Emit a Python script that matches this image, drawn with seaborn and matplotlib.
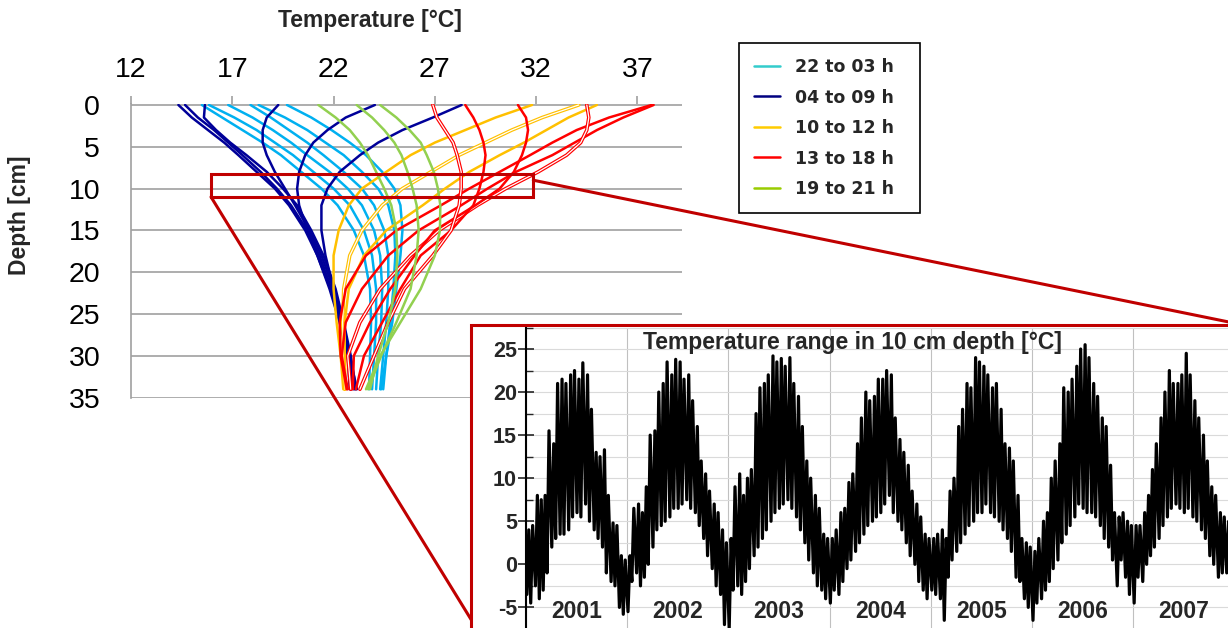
import numpy as np
import pandas as pd
import matplotlib
matplotlib.use("Agg")
import matplotlib.pyplot as plt
import matplotlib.patheffects as pe
import matplotlib.dates as mdates
from matplotlib.lines import Line2D
from matplotlib.patches import Rectangle, ConnectionPatch
from matplotlib.ticker import MultipleLocator
import seaborn as sns

# --- data -------------------------------------------------------------
# depth levels of the hourly profiles [cm]
depths = [0, 1.5, 3, 4.5, 6, 8, 10, 12, 15, 18, 22, 26, 30, 34]

# hourly soil temperature profiles [°C]
night = {  # 22 to 03 h
    22: [19.7, 20.9, 21.9, 22.8, 23.6, 24.4, 25.0, 25.3, 25.4, 25.3, 25.1, 24.9, 24.6, 24.35],
    23: [18.3, 19.6, 20.7, 21.6, 22.5, 23.4, 24.2, 24.7, 25.0, 25.05, 24.95, 24.8, 24.6, 24.45],
    0: [17.9, 18.9, 19.8, 20.7, 21.5, 22.5, 23.4, 24.0, 24.5, 24.7, 24.7, 24.6, 24.45, 24.3],
    1: [16.8, 18.0, 19.0, 19.9, 20.7, 21.8, 22.7, 23.4, 24.0, 24.3, 24.4, 24.35, 24.2, 24.1],
    2: [15.85, 17.1, 18.2, 19.1, 20.0, 21.0, 22.0, 22.8, 23.5, 23.9, 24.1, 24.1, 24.0, 23.9],
    3: [15.5, 16.5, 17.5, 18.5, 19.4, 20.4, 21.4, 22.2, 23.0, 23.5, 23.8, 23.85, 23.8, 23.75],
}
morning = {  # 04 to 09 h
    4: [14.67, 15.3, 16.1, 16.8, 17.5, 18.4, 19.2, 19.9, 20.7, 21.3, 21.9, 22.4, 22.8, 23.15],
    5: [14.34, 15.0, 15.8, 16.6, 17.3, 18.2, 19.1, 19.8, 20.6, 21.2, 21.85, 22.35, 22.75, 23.0],
    6: [15.65, 15.6, 16.2, 16.9, 17.7, 18.7, 19.5, 20.2, 20.9, 21.5, 22.1, 22.5, 22.85, 23.1],
    7: [19.27, 18.7, 18.5, 18.5, 18.7, 19.1, 19.6, 20.1, 20.8, 21.4, 22.0, 22.45, 22.8, 23.05],
    8: [24.04, 22.6, 21.7, 21.0, 20.6, 20.3, 20.2, 20.3, 20.7, 21.2, 21.8, 22.3, 22.7, 22.9],
    9: [28.32, 26.9, 25.4, 24.2, 23.3, 22.3, 21.7, 21.4, 21.4, 21.6, 22.0, 22.4, 22.7, 22.8],
}
noon = {  # 10 to 12 h
    10: [31.8, 30.0, 28.5, 27.0, 25.8, 24.6, 23.4, 22.75, 22.25, 22.0, 22.0, 22.15, 22.35, 22.48],
    11: [34.1, 32.3, 30.8, 29.5, 28.2, 26.8, 25.4, 24.4, 23.4, 22.8, 22.5, 22.45, 22.5, 22.55],
    12: [35.0, 33.6, 32.5, 31.4, 30.2, 28.7, 27.5, 26.4, 24.6, 23.5, 22.75, 22.55, 22.55, 22.6],
}
afternoon = {  # 13 to 18 h
    13: [37.7, 35.6, 34.0, 32.8, 31.7, 30.2, 28.7, 27.3, 25.1, 23.6, 22.6, 22.3, 22.35, 22.65],
    14: [37.8, 36.3, 35.0, 33.9, 32.8, 31.0, 29.6, 28.3, 26.2, 24.7, 23.4, 22.6, 22.4, 22.7],
    15: [34.5, 34.6, 34.5, 34.2, 33.5, 32.1, 30.5, 29.1, 27.2, 25.8, 24.3, 23.3, 22.7, 22.85],
    16: [31.1, 31.5, 31.6, 31.5, 31.3, 30.9, 30.2, 29.0, 27.0, 26.0, 24.8, 23.8, 23.0, 22.95],
    17: [28.5, 28.9, 29.2, 29.4, 29.5, 29.4, 29.2, 28.9, 27.8, 26.3, 25.3, 24.4, 23.5, 23.1],
    18: [26.9, 27.1, 27.5, 27.9, 28.1, 28.3, 28.3, 28.2, 27.8, 26.9, 25.5, 24.7, 24.0, 23.3],
}
evening = {  # 19 to 21 h
    19: [24.3, 25.1, 25.75, 26.3, 26.6, 26.95, 27.15, 27.27, 27.25, 27.0, 26.3, 25.3, 24.3, 23.6],
    20: [23.14, 23.9, 24.5, 25.0, 25.35, 25.65, 25.9, 26.1, 26.2, 26.1, 25.8, 25.1, 24.35, 23.7],
    21: [21.25, 22.1, 22.8, 23.3, 23.7, 24.1, 24.5, 24.85, 25.1, 25.15, 25.05, 24.7, 24.2, 23.8],
}
hollow_hours = [11, 15, 18]

group_labels = ["22 to 03 h", "04 to 09 h", "10 to 12 h", "13 to 18 h", "19 to 21 h"]
group_profiles = [night, morning, noon, afternoon, evening]
line_colors = ["#00b0f0", "#000099", "#ffc000", "#ff0000", "#92d050"]
legend_colors = ["#33cccc", "#000080", "#ffcc00", "#ff0000", "#99cc00"]

temp_ticks = [12, 17, 22, 27, 32, 37]
depth_ticks = [0, 5, 10, 15, 20, 25, 30, 35]

# 10 cm depth record: half-monthly upper / lower envelope [°C]
years = [2001, 2002, 2003, 2004, 2005, 2006, 2007]
hi_2001 = [4.0, 4.5, 8.0, 7.5, 8.0, 15.5, 14.0, 21.0, 21.5, 21.0, 22.0, 22.5,
           21.5, 23.4, 22.0, 18.0, 13.0, 12.5, 13.3, 8.0, 4.8, 4.5, 1.0, 0.5]
lo_2001 = [-3.5, -4.5, -2.5, -4.0, -3.0, -1.0, 2.0, 3.0, 3.5, 3.5, 4.0, 5.5,
           6.0, 5.5, 7.0, 5.0, 4.0, 3.0, 2.0, -1.0, -2.0, -2.5, -5.0, -5.8]
hi_2002 = [1.0, 6.5, 7.0, 6.0, 9.0, 15.0, 15.5, 20.0, 21.0, 23.5, 22.0, 23.8,
           23.5, 21.5, 22.0, 19.0, 16.0, 12.0, 10.5, 8.5, 7.0, 6.0, 4.0, 2.5]
lo_2002 = [-5.5, -2.0, -1.0, -2.5, -1.5, 0.0, 2.0, 4.0, 4.5, 5.0, 5.5, 6.5,
           6.5, 7.0, 7.5, 6.5, 6.0, 4.5, 3.0, 1.0, -0.5, -2.5, -3.5, -7.0]
hi_2003 = [3.0, 9.0, 10.5, 8.0, 10.0, 11.0, 17.5, 20.5, 21.0, 22.0, 24.2, 23.5,
           23.9, 23.0, 24.0, 21.0, 19.5, 16.0, 12.0, 10.0, 8.0, 6.5, 3.5, 3.0]
lo_2003 = [-7.5, -3.0, -2.5, -3.5, -2.0, -0.5, 1.0, 2.0, 3.0, 4.0, 5.0, 6.0,
           6.5, 7.0, 7.5, 6.5, 5.5, 4.0, 2.5, 0.5, -1.0, -2.5, -3.0, -4.0]
hi_2004 = [3.0, 4.0, 6.0, 6.5, 9.5, 10.5, 14.0, 17.0, 20.0, 19.0, 19.5, 21.5,
           21.5, 22.5, 22.0, 17.0, 14.5, 13.0, 11.5, 8.5, 7.0, 5.5, 3.5, 3.0]
lo_2004 = [-4.5, -3.0, -3.5, -2.0, -0.5, 0.5, 1.5, 2.5, 3.5, 4.5, 5.0, 5.5,
           6.0, 7.0, 8.0, 6.0, 5.0, 4.0, 2.5, 1.0, 0.0, -2.0, -3.0, -4.0]
hi_2005 = [3.0, 3.5, 4.0, 3.0, 8.5, 10.0, 16.0, 18.0, 21.0, 20.5, 24.0, 23.5,
           23.0, 22.0, 20.5, 21.0, 18.0, 14.0, 13.5, 12.0, 8.0, 3.0, 2.5, 2.0]
lo_2005 = [-3.0, -3.5, -4.0, -6.5, -1.5, 0.5, 1.5, 2.5, 3.5, 4.5, 5.0, 6.0,
           6.0, 7.0, 6.0, 5.5, 5.0, 4.0, 3.0, 1.5, -1.5, -2.0, -4.0, -5.0]
hi_2006 = [1.5, 3.0, 5.0, 6.0, 10.0, 12.0, 14.0, 20.5, 20.0, 21.5, 23.0, 25.0,
           25.5, 24.0, 21.0, 19.5, 17.0, 16.0, 11.5, 6.0, 5.5, 6.0, 5.0, 4.5]
lo_2006 = [-6.5, -4.5, -4.0, -3.0, -2.0, -0.5, 0.5, 2.5, 3.5, 4.5, 5.5, 7.0,
           6.5, 6.0, 6.0, 5.5, 4.5, 3.0, 2.0, 0.5, -2.5, 0.5, -1.5, -3.5]
hi_2007 = [4.5, 4.5, 6.0, 8.0, 11.0, 14.0, 17.0, 20.0, 22.5, 21.0, 21.0, 22.0,
           24.5, 22.0, 19.0, 17.0, 15.0, 12.0, 9.0, 8.0, 6.0, 5.5, 5.0, 4.0]
lo_2007 = [-4.5, -1.5, -2.0, 0.0, 1.0, 2.0, 3.0, 4.5, 5.5, 6.5, 7.0, 6.5,
           6.0, 6.5, 5.5, 5.0, 4.0, 3.0, 1.0, 0.0, -1.5, -1.0, -1.0, -1.5]

# --- style ------------------------------------------------------------
sns.set_style("white")
plt.rcParams["font.family"] = ["Liberation Sans", "DejaVu Sans"]
plt.rcParams["axes.unicode_minus"] = False

fig = plt.figure(figsize=(12.28, 6.28), dpi=100)
W, H = 1228, 628

# main axes: hourly profiles
ax = fig.add_axes([131 / W, (H - 398.3) / H, 551 / W, 294 / H])

rows = []
for prof in group_profiles:
    for hour, temps in prof.items():
        for d, t in zip(depths, temps):
            rows.append((hour, d, t))
df = pd.DataFrame(rows, columns=["hour", "depth", "temp"])

for prof, col in zip(group_profiles, line_colors):
    for hour in prof:
        sub = df[df["hour"] == hour]
        sns.lineplot(data=sub, x="temp", y="depth", sort=False, estimator=None,
                     color=col, lw=1.8, ax=ax)
        line = ax.lines[-1]
        if hour in hollow_hours:
            line.set_path_effects([pe.Stroke(linewidth=2.6, foreground=col),
                                   pe.Stroke(linewidth=0.9, foreground="white")])

ax.set_xlim(12, 39.2)
ax.set_ylim(35.08, -0.08)
ax.set_xticks(temp_ticks)
ax.set_yticks(depth_ticks)
ax.xaxis.tick_top()
ax.set_axisbelow(True)
ax.yaxis.grid(True, color="#a0a0a0", lw=1.2)
ax.xaxis.grid(False)
for s in ["top", "right", "bottom"]:
    ax.spines[s].set_visible(False)
ax.spines["left"].set_color("#a0a0a0")
ax.spines["left"].set_linewidth(1.2)
ax.tick_params(axis="x", direction="out", length=5.8, width=1.2, color="#a0a0a0",
               pad=9.5, labelsize=20.5, labelcolor="black")
ax.tick_params(axis="y", direction="out", length=7.2, width=1.2, color="#a0a0a0",
               pad=15, labelsize=20.5, labelcolor="black")

ax.xaxis.set_label_position("top")
ax.set_xlabel("Temperature [°C]", fontsize=16.5, fontweight="bold")
ax.xaxis.label.set_va("center")
ax.xaxis.set_label_coords((370 - 131) / 551, (398.3 - 20) / 294)
ax.set_ylabel("Depth [cm]", fontsize=16.5, fontweight="bold")
ax.yaxis.label.set_va("center")
ax.yaxis.set_label_coords((20 - 131) / 551, (398.3 - 215) / 294)

# zoom box at 10 cm
ax.add_patch(Rectangle((15.95, 8.2), 15.9, 2.8, fill=False, edgecolor="#c00000",
                       lw=2.2, zorder=5))

handles = [Line2D([], [], color=c, lw=1.8) for c in legend_colors]
leg = fig.legend(handles, [g + "  " for g in group_labels], loc="upper left",
                 bbox_to_anchor=(739 / W, 1 - 43.3 / H), frameon=True, fancybox=False,
                 edgecolor="black", framealpha=1, borderaxespad=0, borderpad=0.85,
                 labelspacing=0.72, handlelength=1.5, handletextpad=0.85,
                 prop={"family": "DejaVu Sans", "weight": "bold", "size": 12.5})
leg.get_frame().set_linewidth(1.2)

# connector lines and inset frame
con1 = ConnectionPatch(xyA=(31.86, 9.0), coordsA=ax.transData,
                       xyB=(1246 / W, 1 - 325.5 / H), coordsB=fig.transFigure,
                       color="#c00000", lw=2.2, zorder=1.5)
con2 = ConnectionPatch(xyA=(15.95, 11.0), coordsA=ax.transData,
                       xyB=(480 / W, 1 - 634 / H), coordsB=fig.transFigure,
                       color="#c00000", lw=2.2, zorder=1.5)
fig.add_artist(con1)
fig.add_artist(con2)
frame = Rectangle((470.5 / W, -0.1), 1.0, 1 - 325.5 / H + 0.1, transform=fig.transFigure,
                  facecolor="white", edgecolor="#c00000", lw=2.2, zorder=2)
fig.add_artist(frame)

# inset: temperature record in 10 cm depth
ax2 = fig.add_axes([526 / W, (H - 641.8) / H, 708.5 / W, 314.3 / H], zorder=3)
half_months = pd.date_range("2001-01-01", "2007-12-31", freq="SMS")
hi_all = hi_2001 + hi_2002 + hi_2003 + hi_2004 + hi_2005 + hi_2006 + hi_2007
lo_all = lo_2001 + lo_2002 + lo_2003 + lo_2004 + lo_2005 + lo_2006 + lo_2007
times, vals = [], []
for d0, lo, hi in zip(half_months, lo_all, hi_all):
    times += [d0 + pd.Timedelta(days=3), d0 + pd.Timedelta(days=10)]
    vals += [lo, hi]
rec = pd.DataFrame({"time": times, "temp": vals})
sns.lineplot(data=rec, x="time", y="temp", color="black", lw=2.3, estimator=None,
             sort=False, ax=ax2)

ax2.set_xlim(pd.Timestamp("2001-01-01"), pd.Timestamp("2008-01-01"))
ax2.set_ylim(-9, 27.5)
ax2.xaxis.set_major_locator(mdates.YearLocator())
ax2.yaxis.set_major_locator(MultipleLocator(5))
ax2.yaxis.set_minor_locator(MultipleLocator(2.5))
ax2.grid(axis="x", color="#c0c0c0", lw=0.8)
ax2.grid(axis="y", which="both", color="#dadada", lw=0.8)
ax2.set_axisbelow(True)
ax2.set_xlabel("")
ax2.set_ylabel("")
for s in ["top", "right", "bottom"]:
    ax2.spines[s].set_visible(False)
ax2.spines["left"].set_color("black")
ax2.spines["left"].set_linewidth(1.5)
ax2.tick_params(axis="x", labelbottom=False, length=0)
ax2.tick_params(axis="y", which="major", direction="inout", length=11, width=1.2,
                pad=1, labelsize=15.5, left=True)
ax2.tick_params(axis="y", which="minor", direction="in", length=5, width=1.0, left=True)
for lbl in ax2.get_yticklabels():
    lbl.set_fontweight("bold")

ax2.text(0.4601, 0.9507, "Temperature range in 10 cm depth [°C]", transform=ax2.transAxes,
         ha="center", va="center", fontsize=16.5, fontweight="bold", zorder=6)
for yr in years:
    ax2.text(pd.Timestamp(f"{yr}-07-02"), -5.5, str(yr), ha="center", va="center",
             fontsize=16.5, fontweight="bold", zorder=6)

fig.savefig("out.png", dpi=100)
